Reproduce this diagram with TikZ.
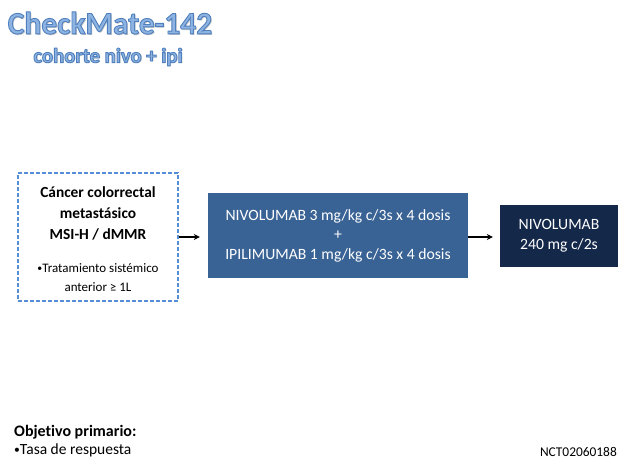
\documentclass[tikz,border=0pt]{standalone}
\usepackage{fontspec}
\setmainfont[Ligatures=NoCommon]{Carlito}
\usetikzlibrary{arrows.meta}
\definecolor{titlefill}{HTML}{8DB3E2}
\definecolor{titleline}{HTML}{4F7FBC}
\definecolor{dashblue}{HTML}{558ED5}
\definecolor{midblue}{HTML}{3A6395}
\definecolor{navy}{HTML}{14284A}
\tikzset{
  pbox/.style={draw=none,inner sep=0pt,align=center,font=\fontsize{15.7}{19.5}\selectfont,text=white},
  conn/.style={-{Stealth[length=6pt,width=6pt]},line width=1.4pt,black},
}
\newcommand{\strokedtext}[1]{\special{pdf:literal direct 0.31 0.5 0.74 RG 0.9 w 2 Tr}#1\special{pdf:literal direct 0 Tr}}
\newcommand{\smallbullet}{\raisebox{0.1ex}{\scalebox{0.75}{•}}}
\begin{document}
\begin{tikzpicture}[x=1pt,y=-1pt]
\useasboundingbox (0,0) rectangle (630,473);
% title shadows
\node[text=black!22,font=\fontsize{31.5}{31.5}\selectfont\bfseries] (titleshadow) at (111.2,24.2) {CheckMate-142};
\node[text=black!22,font=\fontsize{20.7}{20.7}\selectfont\bfseries] (subshadow) at (109,58.2) {cohorte nivo + ipi};
\node[text=titlefill,font=\fontsize{31.5}{31.5}\selectfont\bfseries] (title) at (110,23) {\strokedtext{CheckMate-142}};
\node[text=titlefill,font=\fontsize{20.7}{20.7}\selectfont\bfseries] (subtitle) at (108,57) {\strokedtext{cohorte nivo + ipi}};
% boxes
\node[draw=dashblue,line width=1.5pt,dash pattern=on 4pt off 2pt,fill=white,minimum width=160pt,minimum height=128pt,inner sep=0pt] (left) at (98,237) {};
\node[font=\fontsize{15.4}{21}\selectfont\bfseries,align=center] (lt) at (98,213) {Cáncer colorrectal\\metastásico\\MSI-H / dMMR};
\node[font=\fontsize{13}{19}\selectfont,align=center] (lb) at (98,277.5) {\smallbullet Tratamiento sistémico\\anterior ≥ 1L};
\node[pbox,fill=midblue,minimum width=260pt,minimum height=85pt] (mid) at (338,235.5) {NIVOLUMAB 3 mg/kg c/3s x 4 dosis\\+\\IPILIMUMAB 1 mg/kg c/3s x 4 dosis};
\node[pbox,fill=navy,minimum width=118pt,minimum height=62pt] (right) at (559,236) {NIVOLUMAB\\240 mg c/2s};
\draw[conn] (left.east |- 0,237) -- ([xshift=-8pt]mid.west |- 0,237);
\draw[conn] (mid.east |- 0,237) -- ([xshift=-7pt]right.west |- 0,237);
% bottom
\node[anchor=west,font=\fontsize{16}{18}\selectfont\bfseries,inner sep=0pt] (obj) at (14,432) {Objetivo primario:};
\node[anchor=west,font=\fontsize{15.5}{18}\selectfont,inner sep=0pt] (tasa) at (14,450) {\smallbullet Tasa de respuesta};
\node[anchor=east,font=\fontsize{13.4}{15}\selectfont,inner sep=0pt] (nct) at (617,452) {NCT02060188};
\end{tikzpicture}
\end{document}
